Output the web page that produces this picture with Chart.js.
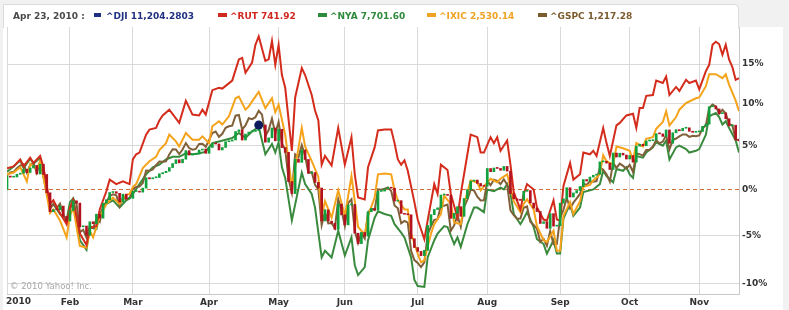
<!DOCTYPE html>
<html>
<head>
<meta charset="utf-8">
<script src="https://cdn.jsdelivr.net/npm/chart.js@4.4.1/dist/chart.umd.min.js"></script>
<style>
    html, body { margin: 0; padding: 0; width: 789px; height: 310px; overflow: hidden; background: #f1f1f1; font-family: "DejaVu Sans", Verdana, sans-serif; }
    #frame { position: absolute; left: 3px; top: 27px; width: 780px; height: 283px; background: #fff; }
    #head { position: absolute; left: 3px; top: 4px; width: 736px; height: 24px; background: #fff; border: 1px solid #dcdcdc; border-bottom: none; border-radius: 0 5px 0 0; box-sizing: border-box; }
    #chart { position: absolute; left: 0; top: 0; }
    .lg { position: absolute; top: 11px; font-size: 9px; font-weight: bold; line-height: 11px; white-space: nowrap; }
    .sw { display: inline-block; width: 9px; height: 4px; margin-right: 3px; position: relative; top: -2px; }
    #copy { position: absolute; left: 10px; top: 281px; font-size: 8.5px; color: #a8a8a8; }
</style>
</head>
<body>
<div id="frame"></div>
<div id="head"></div>
<canvas id="chart" width="789" height="310"></canvas>
<div class="lg" style="left:13px; color:#4a4a4a;">Apr 23, 2010 :</div>
<div class="lg" style="left:94px; color:#203080;"><span class="sw" style="background:#203080; width:7px; margin-right:5px;"></span>^DJI 11,204.2803</div>
<div class="lg" style="left:218px; color:#d0281e;"><span class="sw" style="background:#d0281e;"></span>^RUT 741.92</div>
<div class="lg" style="left:318px; color:#2e8a3c;"><span class="sw" style="background:#2e8a3c;"></span>^NYA 7,701.60</div>
<div class="lg" style="left:427px; color:#f0a322;"><span class="sw" style="background:#f0a322;"></span>^IXIC 2,530.14</div>
<div class="lg" style="left:538px; color:#7b5b2d;"><span class="sw" style="background:#7b5b2d;"></span>^GSPC 1,217.28</div>
<div id="copy">© 2010 Yahoo! Inc.</div>

<script>
// % change vs. 31 Dec 2009 close, one value per trading day (day 0 = 4 Jan 2010)
const djiClose = [
    1.50, 1.38, 1.40, 1.71, 1.82, 2.26, 1.91, 2.42, 2.71, 1.74, 2.85, 1.68, -0.37, -2.45, -2.22, -2.24, -1.84, -2.95, -3.46,
    -2.32, -1.26, -1.51, -4.08, -3.99, -4.98, -3.54, -3.74, -2.72, -3.15, -1.53, -1.14, -0.34, -0.25, -0.43, -1.40, -0.52, -1.03, -0.99,
    -0.23, -0.21, -0.30, 0.15, 1.32, 1.19, 1.31, 1.34, 1.76, 1.89, 2.05, 2.47, 2.93, 3.37, 3.01, 3.43, 4.42, 3.91, 3.96, 4.05, 4.49, 4.60, 4.11,
    4.79, 5.23, 5.20, 4.50, 4.79, 5.46, 5.54, 5.67, 6.67, 6.87, 5.66, 6.37, 6.61, 6.68, 6.77, 7.44, 7.45, 5.41, 5.92, 7.09, 5.57,
    6.94, 4.78, 4.22, 0.88, -0.46, 3.42, 3.07, 4.50, 3.40, 1.84, 1.90, 0.79, 0.16, -3.45, -2.25, -3.47, -3.69, -4.35, -1.62, -2.79,
    -3.87, -1.71, -1.66, -4.76, -5.86, -4.68, -5.07, -2.45, -2.08, -2.27, -0.22, -0.18, 0.06, 0.22, 0.14, -1.29, -1.24, -2.64, -2.73, -2.78, -5.35, -6.27,
    -6.67, -7.11, -6.56, -3.93, -2.77, -2.21, -2.03, -0.62, -0.59, -0.66, -3.17, -2.62, -1.90, -2.95, -1.01, -0.03, 0.93, 1.05, 0.67, 0.38, 0.36,
    2.36, 2.00, 2.42, 2.37, 2.16, 2.60, 2.07, -0.47, -1.04, -1.20, -1.21, -0.21, -0.12, -1.50, -2.06, -2.43, -3.72, -3.53, -4.24, -2.66, -4.01, -3.96,
    -1.52, -1.04, 0.19, -0.84, -0.39, -0.12, 0.33, 1.11, 0.94, 1.39, 1.60, 1.72, 3.12, 3.19, 2.98, 2.25, 4.14, 3.68, 4.12, 3.91, 3.45,
    3.85, 3.10, 4.95, 5.17, 4.99, 5.55, 5.58, 5.68, 6.41, 6.39, 6.09, 6.86, 5.28, 6.52, 6.89, 6.76, 7.06, 7.11, 6.70, 6.58, 6.62,
    6.68, 7.29, 7.55, 9.65, 9.74, 9.39, 8.81, 8.91, 8.20, 7.33, 7.42, 5.71, 5.56
];
const gspcClose = [
    1.60, 1.92, 1.98, 2.38, 2.68, 2.86, 1.89, 2.74, 2.99, 1.88, 3.15, 2.06, 0.12, -2.09, -1.64, -2.06, -1.58, -2.74, -3.70,
    -2.32, -1.06, -1.60, -4.66, -4.39, -5.23, -4.00, -4.21, -3.28, -3.55, -1.81, -1.40, -0.75, -0.53, -0.64, -1.84, -0.88, -1.09, -0.95,
    0.05, 0.29, 0.33, 0.71, 2.12, 2.10, 2.27, 2.74, 3.15, 3.13, 3.18, 3.98, 4.58, 4.55, 4.02, 4.55, 5.30, 4.72, 4.54, 4.62, 5.21, 5.22, 4.87,
    5.65, 6.49, 6.67, 6.04, 6.40, 7.11, 7.30, 7.37, 8.57, 8.66, 6.91, 7.39, 8.26, 8.15, 8.39, 9.16, 8.69, 6.15, 6.84, 8.22, 6.42,
    7.82, 5.25, 4.55, 1.17, -0.38, 4.00, 3.65, 5.07, 3.80, 1.85, 1.96, 0.51, 0.00, -3.90, -2.46, -3.72, -3.68, -4.23, -1.08, -2.30,
    -3.98, -1.50, -1.10, -4.50, -5.80, -4.76, -5.33, -2.53, -2.11, -2.28, 0.01, -0.04, 0.08, 0.22, -0.17, -1.77, -2.07, -3.71, -3.44, -3.63, -6.62, -7.57,
    -7.87, -8.30, -7.81, -4.92, -4.02, -3.33, -3.26, -1.77, -1.79, -1.67, -4.50, -3.93, -2.84, -4.08, -1.92, -1.12, -0.01, -0.11, -0.80, -1.22, -1.21,
    0.96, 0.48, 1.09, 0.96, 0.59, 1.14, 0.53, -2.30, -2.82, -3.21, -3.20, -2.02, -1.88, -3.54, -3.89, -4.28, -5.67, -5.36, -6.09, -4.53, -5.93, -5.90,
    -3.12, -2.24, -0.95, -2.09, -1.46, -0.98, -0.50, 0.61, 0.54, 0.89, 0.86, 0.94, 2.48, 2.21, 1.72, 0.87, 3.01, 2.43, 2.92, 2.66, 2.34,
    2.79, 1.97, 4.09, 4.02, 3.85, 4.49, 4.50, 4.90, 5.65, 5.27, 5.48, 6.24, 4.56, 5.66, 5.84, 6.10, 6.32, 6.33, 6.04, 6.16, 6.11,
    6.21, 7.04, 7.43, 9.50, 9.93, 9.70, 8.82, 9.29, 8.83, 7.54, 7.41, 5.67, 5.69
];
// [trading day, % change]
const rutPoints = [[0,2.4],[2,2.6],[4,3.4],[5,2.6],[7,3.6],[8,3.0],[10,3.8],[11,2.5],[13,-1.6],[14,-1.2],[16,-2.6],[18,-3.8],[19,-2.0],[20,-1.2],[22,-4.8],[24,-6.0],[25,-4.2],[27,-4.0],[28,-2.2],[30,-0.2],[31,1.1],[33,0.6],[35,0.9],[37,0.6],[38,3.4],[39,4.0],[40,4.2],[42,6.3],[43,6.9],[45,7.1],[46,8.0],[47,8.6],[49,9.3],[52,7.7],[54,10.4],[56,8.7],[58,8.6],[59,9.3],[60,8.7],[62,11.7],[64,12.0],[65,11.9],[68,12.9],[70,15.6],[71,15.8],[72,13.9],[74,15.2],[75,17.5],[76,18.6],[78,15.4],[79,15.6],[80,18.0],[81,14.9],[82,17.5],[83,13.6],[84,12.0],[86,4.4],[87,10.8],[89,14.5],[90,13.6],[92,11.1],[93,9.2],[94,8.0],[95,2.8],[96,3.8],[98,2.7],[100,7.1],[102,2.8],[104,6.0],[105,1.7],[106,-0.9],[108,-1.1],[109,2.5],[111,4.8],[112,6.8],[114,6.9],[116,6.9],[117,5.3],[118,3.4],[119,2.8],[120,3.3],[121,2.1],[123,-1.4],[124,-3.3],[126,-5.4],[127,-3.4],[129,0.6],[130,-0.5],[131,2.8],[133,2.2],[134,-0.5],[136,-3.1],[137,-0.5],[139,4.0],[140,6.3],[142,6.0],[143,4.2],[144,4.2],[146,6.0],[147,5.3],[148,6.0],[149,4.4],[151,5.6],[152,2.8],[153,-0.3],[155,-2.2],[156,-0.5],[157,0.6],[159,0.0],[160,-2.0],[162,-3.3],[163,-3.4],[165,-1.2],[166,-3.3],[167,-3.4],[168,0.4],[170,3.0],[171,1.1],[173,1.7],[174,4.2],[176,4.0],[177,4.4],[178,3.8],[180,7.1],[181,5.3],[182,3.8],[184,7.4],[185,7.7],[187,8.6],[189,8.8],[190,7.1],[191,9.5],[192,9.5],[193,11.0],[195,11.1],[196,12.9],[198,12.6],[199,13.4],[200,11.1],[202,12.1],[203,11.6],[205,13.0],[206,12.6],[208,12.9],[209,11.8],[211,14.1],[212,14.9],[213,17.5],[214,17.9],[215,17.6],[216,16.2],[217,17.5],[218,15.6],[219,14.6],[220,13.0],[221,13.2]];
const ixicPoints = [[0,1.7],[2,1.9],[4,2.5],[6,0.9],[7,2.9],[9,2.3],[10,3.2],[11,1.4],[13,-2.6],[14,-2.2],[16,-3.4],[18,-5.2],[19,-2.9],[20,-2.0],[22,-6.1],[24,-6.3],[25,-4.5],[26,-5.2],[28,-3.0],[30,-1.6],[32,-0.9],[34,-1.6],[36,-0.6],[37,-0.5],[38,0.3],[39,0.6],[41,2.4],[43,3.2],[45,3.7],[46,4.5],[48,5.3],[49,6.3],[51,5.5],[52,4.9],[54,6.5],[56,5.7],[58,5.7],[59,6.1],[61,5.3],[62,7.3],[64,7.9],[65,7.5],[67,8.5],[69,10.7],[70,10.9],[72,9.3],[73,9.7],[75,10.9],[76,11.5],[78,9.5],[80,10.7],[81,9.0],[82,9.9],[84,6.3],[86,0.3],[87,2.4],[89,7.1],[90,4.9],[92,3.2],[94,1.4],[95,-2.9],[96,-1.3],[98,-3.1],[100,-0.1],[102,-2.9],[104,1.5],[105,-1.3],[106,-4.1],[108,-4.9],[109,-2.9],[111,-0.9],[112,1.7],[114,1.8],[116,1.7],[117,-0.1],[118,-1.2],[120,-2.2],[121,-2.2],[122,-4.8],[124,-6.9],[125,-7.8],[126,-7.6],[128,-4.8],[129,-3.8],[131,-2.7],[132,-0.7],[134,-1.6],[135,-3.6],[137,-3.8],[138,-1.6],[140,1.0],[142,0.8],[143,-0.1],[145,0.8],[146,1.2],[148,0.8],[149,1.2],[151,1.7],[153,-1.3],[155,-2.5],[156,-1.6],[157,-1.1],[159,-2.2],[160,-4.0],[162,-5.5],[163,-5.7],[165,-4.5],[166,-6.6],[167,-6.6],[168,-2.9],[170,-1.4],[171,-2.7],[173,-1.3],[174,0.3],[176,0.5],[177,1.0],[179,1.7],[180,3.9],[181,3.2],[183,2.8],[184,4.9],[186,4.7],[188,4.4],[189,3.3],[190,5.3],[192,4.9],[193,5.8],[195,6.0],[196,7.0],[198,7.8],[199,9.1],[200,7.4],[202,8.4],[203,9.3],[205,10.1],[208,10.7],[209,10.8],[211,12.2],[212,13.7],[214,13.7],[216,13.2],[217,13.7],[218,12.4],[220,10.4],[221,9.1]];
const nyaPoints = [[0,2.0],[2,2.6],[4,3.3],[5,2.4],[7,3.5],[8,2.9],[10,3.6],[11,1.4],[13,-2.0],[14,-1.6],[16,-2.7],[18,-3.4],[19,-1.4],[20,-1.0],[22,-5.5],[24,-6.5],[25,-4.1],[27,-4.3],[28,-2.7],[30,-1.6],[32,-1.2],[34,-2.0],[36,-1.2],[37,-1.0],[38,-0.5],[40,0.6],[42,1.7],[44,2.5],[46,2.8],[48,3.4],[50,3.7],[52,3.7],[54,4.1],[56,4.0],[58,4.1],[60,4.3],[62,5.3],[64,5.5],[66,5.7],[68,5.9],[70,6.5],[72,5.9],[74,6.7],[76,7.2],[78,4.0],[80,5.2],[81,4.2],[82,5.4],[83,2.5],[84,1.3],[86,-3.4],[89,1.9],[90,0.6],[92,-0.5],[93,-2.0],[95,-7.3],[96,-6.6],[98,-7.3],[100,-4.5],[102,-7.1],[104,-5.2],[105,-8.1],[106,-9.1],[108,-8.3],[109,-5.5],[111,-3.1],[112,-2.4],[114,-2.7],[116,-2.9],[117,-3.8],[119,-4.7],[120,-5.2],[122,-7.3],[123,-9.6],[124,-10.2],[126,-10.3],[127,-7.3],[129,-5.5],[130,-4.8],[132,-4.0],[133,-4.1],[135,-5.9],[136,-5.2],[137,-6.2],[139,-3.8],[141,-2.0],[142,-2.0],[144,-2.5],[145,0.0],[147,-0.2],[149,0.2],[150,0.0],[151,0.6],[152,-0.4],[153,-2.7],[155,-3.8],[156,-3.2],[157,-2.5],[159,-4.1],[160,-5.4],[162,-5.9],[163,-6.9],[165,-5.5],[166,-6.9],[167,-6.9],[168,-3.2],[170,-1.6],[171,-2.9],[173,-2.0],[174,-0.3],[176,-0.1],[177,0.0],[179,0.6],[180,2.1],[181,1.5],[183,0.8],[184,2.3],[186,2.1],[187,2.5],[188,1.7],[189,1.3],[190,3.8],[192,3.6],[193,4.2],[195,4.8],[196,5.4],[198,5.0],[199,5.6],[200,3.4],[202,4.8],[203,5.0],[205,4.6],[206,4.2],[208,4.4],[209,4.6],[211,6.3],[212,8.5],[214,8.9],[215,8.4],[216,7.5],[217,7.9],[218,7.1],[220,5.6],[221,4.2]];

const monthStarts = [0, 19, 38, 61, 82, 102, 124, 145, 167, 188, 209];
const monthLabels = ['2010', 'Feb', 'Mar', 'Apr', 'May', 'Jun', 'Jul', 'Aug', 'Sep', 'Oct', 'Nov'];
const yTicks = [-10, -5, 0, 5, 10, 15];
const yRange = [-10.91, 19.85];
const lastDay = 221;
const cursorDay = 76; // Apr 23

const ratio = p => 1 + p / 100;
const toPoints = list => list.map(([d, p]) => ({ x: d, y: ratio(p) }));

const axisFont = { family: 'DejaVu Sans', size: 9, weight: 'bold' };
const gridColor = '#d9d9d9';

const candles = djiClose.map((c, i) => ({ x: i, y: [ratio(i ? djiClose[i - 1] : 0), ratio(c)] }));
const candleColors = djiClose.map((c, i) => c >= (i ? djiClose[i - 1] : 0) ? '#12a03c' : '#b3121f');

// dashed 0% line and left aligned first month label
const baselinePlugin = {
    id: 'baseline',
    beforeDatasetsDraw(chart) {
        const { ctx, chartArea, scales } = chart;
        const y = Math.round(scales.y.getPixelForValue(1)) + 0.5;
        ctx.save();
        ctx.strokeStyle = '#d4703c';
        ctx.lineWidth = 1;
        ctx.setLineDash([4, 3]);
        ctx.beginPath();
        ctx.moveTo(chartArea.left, y);
        ctx.lineTo(chartArea.right, y);
        ctx.stroke();
        ctx.restore();
    },
    afterDraw(chart) {
        const { ctx, scales } = chart;
        ctx.save();
        ctx.font = 'bold 9px "DejaVu Sans"';
        ctx.fillStyle = '#333';
        ctx.textAlign = 'left';
        ctx.textBaseline = 'top';
        ctx.fillText(monthLabels[0], scales.x.getPixelForValue(monthStarts[0]) - 1, scales.x.top + 3);
        ctx.restore();
    }
};

new Chart(document.getElementById('chart').getContext('2d'), {
    type: 'line',
    data: {
        datasets: [
            {
                label: '^DJI cursor',
                data: [{ x: cursorDay, y: ratio(djiClose[cursorDay]) }],
                showLine: false,
                pointRadius: 4.5,
                pointBackgroundColor: '#0d1a5c',
                pointBorderWidth: 0,
                order: 0
            },
            {
                type: 'bar',
                label: '^DJI',
                data: candles,
                backgroundColor: candleColors,
                barThickness: 2,
                minBarLength: 1,
                grouped: false,
                order: 1
            },
            { label: '^RUT', data: toPoints(rutPoints), borderColor: '#d42c1c', order: 2 },
            { label: '^IXIC', data: toPoints(ixicPoints), borderColor: '#f5a31a', order: 3 },
            { label: '^GSPC', data: gspcClose.map((p, i) => ({ x: i, y: ratio(p) })), borderColor: '#806038', order: 4 },
            { label: '^NYA', data: toPoints(nyaPoints), borderColor: '#3a8a3e', order: 5 }
        ]
    },
    options: {
        responsive: false,
        animation: false,
        layout: { padding: { left: 7, top: 27, right: 0, bottom: 0 } },
        elements: {
            line: { borderWidth: 2, tension: 0, fill: false },
            point: { radius: 0 }
        },
        plugins: {
            legend: { display: false },
            tooltip: { enabled: false }
        },
        scales: {
            x: {
                type: 'linear',
                min: 0,
                max: lastDay,
                offset: false,
                afterBuildTicks: s => { s.ticks = monthStarts.map(v => ({ value: v })); },
                afterFit: s => { s.height = 16; },
                ticks: {
                    autoSkip: false,
                    maxRotation: 0,
                    padding: 3,
                    color: '#333',
                    font: axisFont,
                    callback: (v, i) => i === 0 ? '' : monthLabels[i]
                },
                grid: { color: gridColor, drawTicks: false, offset: false },
                border: { color: '#c8c8c8' }
            },
            y: {
                type: 'logarithmic',
                position: 'right',
                min: ratio(yRange[0]),
                max: ratio(yRange[1]),
                afterBuildTicks: s => { s.ticks = yTicks.map(p => ({ value: ratio(p) })); },
                afterFit: s => { s.width = 50; },
                ticks: {
                    padding: 3,
                    color: '#333',
                    font: axisFont,
                    callback: v => Math.round((v - 1) * 100) + '%'
                },
                grid: {
                    drawTicks: false,
                    color: c => (c.tick && Math.abs(c.tick.value - 1) < 1e-9) ? 'rgba(0,0,0,0)' : gridColor
                },
                border: { color: '#c8c8c8' }
            }
        }
    },
    plugins: [baselinePlugin]
});
</script>
</body>
</html>
